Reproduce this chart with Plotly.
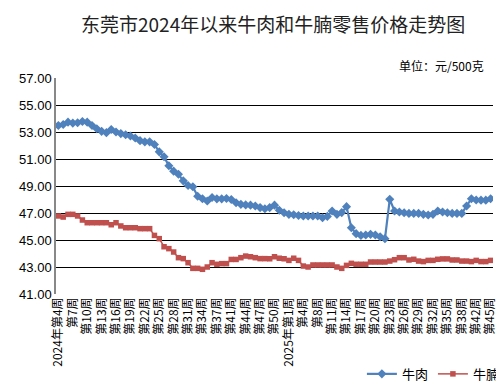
import plotly.graph_objects as go

weeks_2024 = [w for w in range(4, 53) if w != 40]
weeks_2025 = [w for w in range(1, 46) if w not in (5, 40)]
categories = []
for i, w in enumerate(weeks_2024):
    categories.append(("2024年第%d周" % w) if i == 0 else ("第%d周" % w))
for i, w in enumerate(weeks_2025):
    categories.append(("2025年第%d周" % w) if i == 0 else ("第%d周" % w))

beef = [53.48, 53.56, 53.73, 53.66, 53.68, 53.78, 53.73, 53.48, 53.24, 53.05,
        52.95, 53.19, 53.0, 52.88, 52.8, 52.7, 52.56, 52.36, 52.27, 52.27,
        52.07, 51.53, 51.17, 50.5, 50.1, 49.87, 49.38, 49.04, 48.94, 48.24,
        48.06, 47.89, 48.15, 48.05, 48.05, 48.07, 48.0, 47.76, 47.64, 47.6,
        47.58, 47.52, 47.4, 47.32, 47.4, 47.58, 47.2, 47.02, 46.9, 46.87,
        46.82, 46.78, 46.78, 46.78, 46.78, 46.65, 46.75, 47.15, 46.9, 47.03,
        47.47, 45.91, 45.47, 45.34, 45.37, 45.42, 45.37, 45.24, 45.1, 48.01,
        47.15, 47.07, 47.02, 46.97, 46.97, 46.97, 46.9, 46.85, 46.9, 47.15,
        47.07, 47.02, 46.97, 46.97, 46.97, 47.52, 48.06, 47.96, 47.95, 47.95,
        48.06]

brisket = [46.78, 46.7, 46.9, 46.9, 46.78, 46.48, 46.28, 46.28, 46.28, 46.28,
           46.28, 46.13, 46.28, 46.04, 45.91, 45.91, 45.91, 45.84, 45.84, 45.84,
           45.34, 45.1, 44.5, 44.36, 44.11, 43.69, 43.62, 43.32, 42.9, 42.9,
           42.83, 43.0, 43.32, 43.2, 43.25, 43.25, 43.56, 43.56, 43.69, 43.81,
           43.76, 43.69, 43.62, 43.62, 43.61, 43.76, 43.65, 43.61, 43.49, 43.65,
           43.49, 43.07, 43.0, 43.15, 43.15, 43.15, 43.15, 43.15, 43.0, 42.9,
           43.12, 43.27, 43.2, 43.2, 43.2, 43.37, 43.37, 43.37, 43.37, 43.44,
           43.54, 43.69, 43.69, 43.52, 43.57, 43.44, 43.4, 43.49, 43.49, 43.57,
           43.6, 43.6, 43.52, 43.52, 43.44, 43.44, 43.4, 43.49, 43.4, 43.4,
           43.49]

y_ticks = [41, 43, 45, 47, 49, 51, 53, 55, 57]

title_text = "东莞市2024年以来牛肉和牛腩零售价格走势图"
unit_text = "单位：元/500克"

FONT = "Noto Sans CJK SC"

x_pos = list(range(len(categories)))

fig = go.Figure()
fig.add_trace(go.Scatter(
    x=x_pos, y=beef, name="牛肉", mode="lines+markers",
    line=dict(color="#4F81BD", width=2.2),
    marker=dict(symbol="diamond", size=7, color="#4F81BD"),
    customdata=categories,
))
fig.add_trace(go.Scatter(
    x=x_pos, y=brisket, name="牛腩", mode="lines+markers",
    line=dict(color="#C0504D", width=1.5),
    marker=dict(symbol="square", size=5.5, color="#C0504D"),
    customdata=categories,
))

tick_idx = list(range(0, len(categories), 3))
fig.update_layout(
    width=504, height=388,
    margin=dict(l=48, r=7, t=70, b=100),
    paper_bgcolor="white", plot_bgcolor="white",
    font=dict(family=FONT, color="#000000", size=12),
    title=dict(text=title_text, xref="container", yref="container",
               x=0.526, y=0.956, xanchor="center", yanchor="middle",
               font=dict(family=FONT, size=19, color="#222222")),
    showlegend=True,
    legend=dict(orientation="h", x=0.70, y=-0.37, xanchor="left", yanchor="middle",
                font=dict(size=13, family=FONT), bgcolor="rgba(0,0,0,0)",
                tracegroupgap=0),
    xaxis=dict(
        tickmode="array",
        tickvals=[x_pos[i] for i in tick_idx],
        ticktext=[categories[i] for i in tick_idx],
        tickangle=-90, tickfont=dict(size=12, family=FONT),
        showgrid=False, showline=False, ticks="", zeroline=False,
        range=[-0.5, len(categories) - 0.5],
    ),
    yaxis=dict(
        range=[41, 57], tickmode="array", tickvals=y_ticks,
        tickformat=".2f", tickfont=dict(size=13, family="Liberation Sans"),
        showgrid=True, gridcolor="#000000", gridwidth=1.3,
        showline=True, linecolor="#888888", linewidth=1.5,
        zeroline=False, ticks="", ticklen=0,
    ),
    annotations=[dict(text=unit_text, xref="paper", yref="paper",
                      x=0.985, y=1.06, xanchor="right", yanchor="middle",
                      showarrow=False, font=dict(size=12, family=FONT))],
)

fig.write_html("out.html")
